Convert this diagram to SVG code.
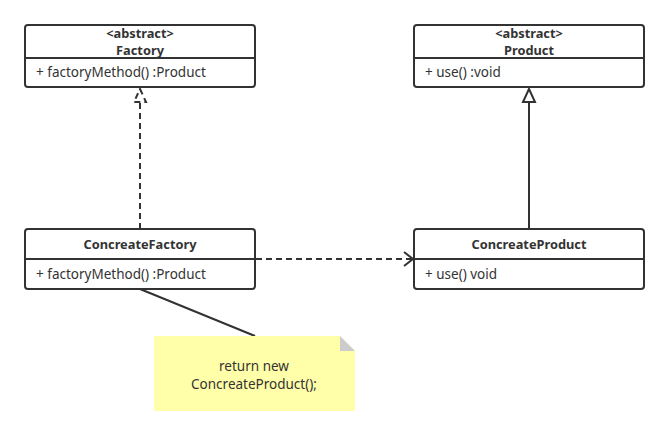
<svg xmlns="http://www.w3.org/2000/svg" width="669" height="436" viewBox="0 0 669 436">
  <style>
    .box { fill: #ffffff; stroke: #323232; stroke-width: 2; }
    .sep { stroke: #323232; stroke-width: 2; }
    .title { font-family: "Noto Sans", "Open Sans", sans-serif; font-size: 12.8px; font-weight: bold; fill: #333333; text-anchor: middle; }
    .member { font-family: "Noto Sans", "Open Sans", sans-serif; font-size: 13.5px; fill: #333333; }
    .link { fill: none; stroke: #323232; stroke-width: 2; }
    .dash { stroke-dasharray: 6 4; }
    .note-text { font-family: "Noto Sans", "Open Sans", sans-serif; font-size: 13.5px; fill: #333333; text-anchor: middle; }
  </style>

  <rect width="669" height="436" fill="#ffffff"/>

  <!-- connectors -->
  <g id="connectors">
    <!-- ConcreateFactory realizes Factory -->
    <line class="link dash" x1="140" y1="229" x2="140" y2="102"/>
    <polygon class="link dash" points="140,89 146,102 134,102" stroke-dasharray="4 3"/>
    <!-- ConcreateProduct inherits Product -->
    <line class="link" x1="529" y1="229" x2="529" y2="102"/>
    <polygon class="link" points="529,89 535,102 523,102"/>
    <!-- ConcreateFactory depends on ConcreateProduct -->
    <line class="link dash" x1="256" y1="259" x2="412" y2="259"/>
    <polyline class="link" points="404,252 413,259 404,266"/>
    <!-- note attachment -->
    <line class="link" x1="140" y1="289" x2="255" y2="336"/>
  </g>

  <!-- Factory -->
  <g id="factory">
    <rect class="box" x="25" y="25" width="230" height="62" rx="3"/>
    <line class="sep" x1="25" y1="58" x2="255" y2="58"/>
    <text class="title" x="140" y="38">&lt;abstract&gt;</text>
    <text class="title" x="140" y="55">Factory</text>
    <text class="member" x="36" y="77">+ factoryMethod() :Product</text>
  </g>

  <!-- Product -->
  <g id="product">
    <rect class="box" x="414" y="25" width="230" height="62" rx="3"/>
    <line class="sep" x1="414" y1="58" x2="644" y2="58"/>
    <text class="title" x="529" y="38">&lt;abstract&gt;</text>
    <text class="title" x="529" y="55">Product</text>
    <text class="member" x="425" y="77">+ use() :void</text>
  </g>

  <!-- ConcreateFactory -->
  <g id="concreate-factory">
    <rect class="box" x="25" y="229" width="230" height="60" rx="3"/>
    <line class="sep" x1="25" y1="259" x2="255" y2="259"/>
    <text class="title" x="140" y="249">ConcreateFactory</text>
    <text class="member" x="36" y="279">+ factoryMethod() :Product</text>
  </g>

  <!-- ConcreateProduct -->
  <g id="concreate-product">
    <rect class="box" x="414" y="229" width="230" height="60" rx="3"/>
    <line class="sep" x1="414" y1="259" x2="644" y2="259"/>
    <text class="title" x="529" y="249">ConcreateProduct</text>
    <text class="member" x="425" y="279">+ use() void</text>
  </g>

  <!-- Note -->
  <g id="note">
    <polygon points="154,336 340,336 355,351 355,411 154,411" fill="#ffffaa"/>
    <polygon points="340,336 355,351 340,351" fill="#cccccc"/>
    <text class="note-text" x="254" y="371">return new</text>
    <text class="note-text" x="254" y="389">ConcreateProduct();</text>
  </g>
</svg>
